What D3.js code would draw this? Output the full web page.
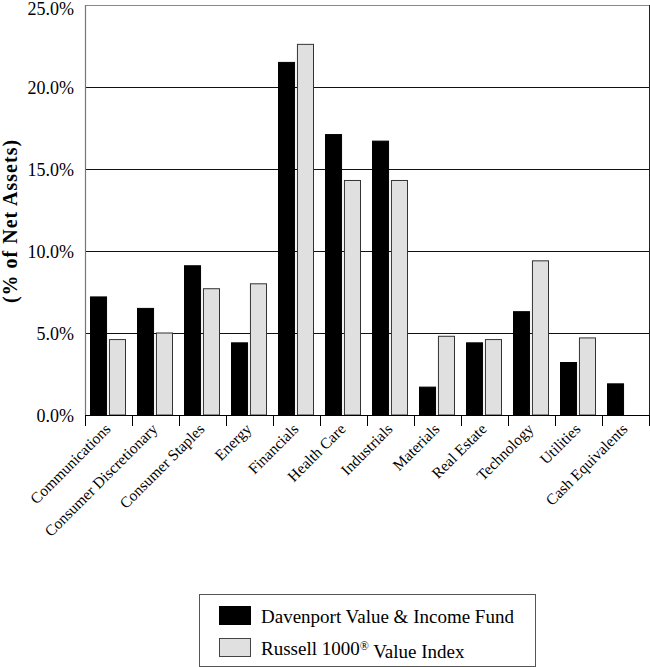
<!DOCTYPE html>
<html>
<head>
<meta charset="utf-8">
<script src="https://cdn.jsdelivr.net/npm/d3@7"></script>
<style>
  html, body { margin: 0; padding: 0; background: #fff; }
  svg { display: block; }
  text { font-family: "Liberation Serif", "Times New Roman", serif; fill: #000; }
</style>
</head>
<body>
<svg id="chart" width="650" height="667"></svg>
<script>
const categories = ["Communications", "Consumer Discretionary", "Consumer Staples", "Energy",
  "Financials", "Health Care", "Industrials", "Materials", "Real Estate", "Technology",
  "Utilities", "Cash Equivalents"];
const seriesNames = ["Davenport Value & Income Fund", "Russell 1000 Value Index"];
const fundValues  = [7.2, 6.5, 9.1, 4.4, 21.5, 17.1, 16.7, 1.7, 4.4, 6.3, 3.2, 1.9];
const indexValues = [4.6, 5.0, 7.7, 8.0, 22.6, 14.3, 14.3, 4.8, 4.6, 9.4, 4.7, 0];
const yTicks = [0, 5, 10, 15, 20, 25];
const colors = ["#000000", "#e0e0e1"];

const svg = d3.select("#chart");
const pLeft = 85, pRight = 649, pTop = 5, pBottom = 415;

const x = d3.scaleBand().domain(categories).range([pLeft, pRight]).padding(0);
const x1 = d3.scaleBand().domain(seriesNames).range([5, 41]).paddingInner(0.1);
const y = d3.scaleLinear().domain([0, 25]).range([pBottom, pTop]);

// gridlines
svg.append("g").selectAll("line").data(yTicks.filter(d => d > 0 && d < 25)).join("line")
  .attr("x1", pLeft).attr("x2", pRight)
  .attr("y1", d => Math.round(y(d)) + 0.5).attr("y2", d => Math.round(y(d)) + 0.5)
  .attr("stroke", "#111").attr("stroke-width", 1);

// frame
svg.append("line").attr("x1", pLeft).attr("x2", pRight).attr("y1", pTop + 0.5).attr("y2", pTop + 0.5)
  .attr("stroke", "#888").attr("stroke-width", 1.2);
svg.append("line").attr("x1", pRight + 0.5).attr("x2", pRight + 0.5).attr("y1", pTop).attr("y2", pBottom)
  .attr("stroke", "#222").attr("stroke-width", 1);
svg.append("line").attr("x1", pLeft + 0.5).attr("x2", pLeft + 0.5).attr("y1", pTop).attr("y2", pBottom)
  .attr("stroke", "#777").attr("stroke-width", 1.2);

// bars
const rows = categories.map((c, i) => ({ c, vals: [fundValues[i], indexValues[i]] }));
const groups = svg.append("g").selectAll("g").data(rows).join("g")
  .attr("transform", d => `translate(${x(d.c)},0)`);
groups.selectAll("rect")
  .data(d => d.vals.map((v, k) => ({ v, k })).filter(e => e.v > 0))
  .join("rect")
  .attr("x", e => x1(seriesNames[e.k]) + 0.5)
  .attr("width", x1.bandwidth() - 1)
  .attr("y", e => y(e.v))
  .attr("height", e => pBottom - y(e.v))
  .attr("fill", e => colors[e.k])
  .attr("stroke", e => e.k === 0 ? "#000" : "#333")
  .attr("stroke-width", 1);

// x axis
svg.append("line").attr("x1", pLeft).attr("x2", pRight + 1).attr("y1", pBottom + 0.5).attr("y2", pBottom + 0.5)
  .attr("stroke", "#000").attr("stroke-width", 1);
const boundaries = categories.map(c => x(c)).concat([pRight]);
svg.append("g").selectAll("line").data(boundaries).join("line")
  .attr("x1", d => Math.round(d) + 0.5).attr("x2", d => Math.round(d) + 0.5)
  .attr("y1", pBottom).attr("y2", pBottom + 11)
  .attr("stroke", "#000").attr("stroke-width", 1);

svg.append("g").selectAll("text").data(categories).join("text")
  .attr("transform", d => `translate(${x(d) + x.bandwidth() / 2 + 3},${pBottom + 15}) rotate(-45)`)
  .attr("text-anchor", "end")
  .style("font-size", "15.5px")
  .text(d => d);

// y axis labels
const yAxis = d3.axisLeft(y).tickValues(yTicks).tickSize(0).tickFormat(d => d.toFixed(1) + "%");
const yg = svg.append("g").attr("transform", `translate(${pLeft - 11},0)`).call(yAxis);
yg.select(".domain").remove();
yg.selectAll("text").attr("x", 0).attr("dy", d => d === 25 ? "0.52em" : "0.34em")
  .style("font-size", "18px").style("font-family", "'Liberation Serif', serif").attr("fill", "#000");

// y title
svg.append("text")
  .attr("transform", `translate(17,221) rotate(-90)`)
  .attr("text-anchor", "middle")
  .style("font-size", "20px").style("font-weight", "bold").style("letter-spacing", "1px")
  .text("(% of Net Assets)");

// legend
const lg = svg.append("g");
lg.append("rect").attr("x", 199.5).attr("y", 594.5).attr("width", 336).attr("height", 72)
  .attr("fill", "#fff").attr("stroke", "#555").attr("stroke-width", 1);
const legendY = [606, 638];
seriesNames.forEach((name, k) => {
  lg.append("rect").attr("x", 219.5).attr("y", legendY[k] + 0.5).attr("width", 31).attr("height", 18)
    .attr("fill", colors[k]).attr("stroke", k === 0 ? "#000" : "#444").attr("stroke-width", 1);
  const t = lg.append("text").attr("x", 261).attr("y", legendY[k] + 17).style("font-size", "19px");
  if (k === 0) {
    t.text(name);
  } else {
    t.append("tspan").text("Russell 1000");
    t.append("tspan").attr("dy", "-0.45em").style("font-size", "12px").text("®");
    t.append("tspan").attr("dy", "0.45em").text(" Value Index");
  }
});
</script>
</body>
</html>
